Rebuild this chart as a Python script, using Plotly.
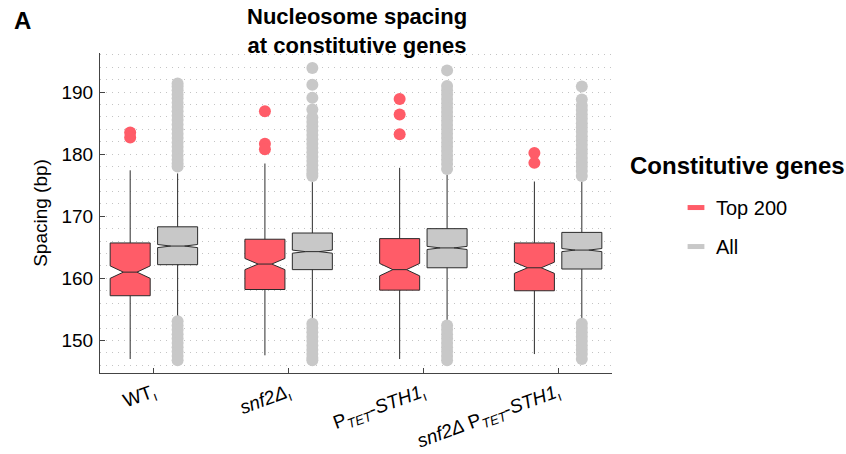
import plotly.graph_objects as go

# Strains on the x axis
strain_labels = [
    "WT<sub>ı</sub>",
    "<i>snf2Δ</i><sub>ı</sub>",
    "P<sub><i>TET</i></sub>-<i>STH1</i><sub>ı</sub>",
    "<i>snf2Δ</i> P<sub><i>TET</i></sub>-<i>STH1</i><sub>ı</sub>",
]
positions = [0, 1, 2, 3]

# Box statistics, top 200 constitutive genes (bp)
top_q1 = [157.2, 158.2, 158.1, 158.0]
top_median = [161.0, 162.3, 161.4, 161.7]
top_q3 = [165.7, 166.3, 166.4, 165.7]
top_lower = [147.0, 147.6, 147.0, 147.8]
top_upper = [177.4, 178.5, 177.8, 175.6]
top_notch = [1.0, 0.9, 1.0, 0.9]

# Box statistics, all constitutive genes (bp)
all_q1 = [162.2, 161.4, 161.7, 161.5]
all_median = [165.2, 164.3, 164.9, 164.55]
all_q3 = [168.3, 167.3, 168.0, 167.4]
all_lower = [153.7, 153.5, 153.2, 153.5]
all_upper = [176.9, 175.5, 176.7, 175.6]
all_notch = [0.25, 0.25, 0.25, 0.25]

# Outliers, top 200
top_outliers = [
    [183.5, 182.7],
    [186.9, 181.7, 180.8],
    [188.9, 186.4, 183.2],
    [180.2, 178.6],
]

# Outliers, all genes
all_outliers = [
    [191.4, 190.9, 190.3, 189.6, 189.0, 188.3, 187.6, 186.9, 186.2, 185.5,
     184.8, 184.0, 183.3, 182.6, 181.9, 181.2, 180.5, 179.8, 179.1, 178.5, 178.0,
     153.1, 152.4, 151.7, 151.0, 150.3, 149.6, 148.9, 148.2, 147.5, 146.8],
    [193.9, 191.2, 189.1, 187.2, 185.9, 185.2, 184.5, 183.8, 183.1, 182.4,
     181.7, 181.0, 180.3, 179.6, 178.9, 178.2, 177.5, 176.9, 176.5,
     152.7, 152.0, 151.3, 150.6, 149.9, 149.2, 148.5, 147.8, 147.2, 146.8],
    [193.5, 191.0, 190.3, 189.6, 188.9, 188.2, 187.5, 186.8, 186.1, 185.4,
     184.7, 184.0, 183.3, 182.6, 181.9, 181.2, 180.5, 179.8, 179.1, 178.4, 177.6,
     152.4, 151.7, 151.0, 150.3, 149.6, 148.9, 148.2, 147.5, 146.8],
    [190.9, 188.8, 187.8, 187.1, 186.4, 185.7, 185.0, 184.3, 183.6, 182.9,
     182.2, 181.5, 180.8, 180.1, 179.4, 178.7, 178.0, 177.3, 176.5,
     152.7, 152.0, 151.3, 150.6, 149.9, 149.2, 148.5, 147.8, 147.0],
]

RED = "#ff5c68"
GREY = "#c8c8c8"
EDGE = "#2b2b2b"
FONT = "Liberation Sans, Arial, sans-serif"
OFFSET = 0.176
BOX_W = 0.297

fig = go.Figure()


def add_group(q1, med, q3, lo, hi, notch, outliers, shift, color):
    xs = [p + shift for p in positions]
    fig.add_trace(go.Box(
        x=xs, q1=q1, median=med, q3=q3, lowerfence=lo, upperfence=hi,
        notchspan=notch, notched=True, notchwidth=0.33, width=BOX_W,
        fillcolor=color, line=dict(color=EDGE, width=1),
        boxpoints=False, whiskerwidth=0, showlegend=False, hoverinfo="skip",
    ))
    ox, oy = [], []
    for x, vals in zip(xs, outliers):
        ox += [x] * len(vals)
        oy += vals
    fig.add_trace(go.Scatter(
        x=ox, y=oy, mode="markers",
        marker=dict(color=color, size=12, line=dict(width=0)),
        showlegend=False, hoverinfo="skip",
    ))


add_group(top_q1, top_median, top_q3, top_lower, top_upper, top_notch,
          top_outliers, -OFFSET, RED)
add_group(all_q1, all_median, all_q3, all_lower, all_upper, all_notch,
          all_outliers, OFFSET, GREY)

# Legend entries
for name, color, grp in [("Top 200", RED, "a"), ("All", GREY, "b")]:
    fig.add_trace(go.Scatter(
        x=[None], y=[None], mode="markers", name=name, legendgroup=grp,
        marker=dict(symbol="line-ew", size=12, line=dict(color=color, width=5)),
    ))

fig.update_layout(
    width=846, height=454, autosize=False,
    margin=dict(l=100, r=234, t=53, b=81, autoexpand=False),
    paper_bgcolor="white", plot_bgcolor="white",
    font=dict(family=FONT, size=19, color="black"),
    boxmode="overlay",
    legend=dict(
        x=1.125, xanchor="left", y=0.578, yanchor="top",
        font=dict(size=20, family=FONT),
        tracegroupgap=10, itemwidth=30,
        bgcolor="rgba(0,0,0,0)",
    ),
    xaxis=dict(
        range=[-0.4, 3.4], tickvals=positions, ticktext=strain_labels,
        tickangle=-20, ticks="inside", ticklen=5, tickcolor="#444",
        showline=True, linecolor="#444", linewidth=1, showgrid=False,
        zeroline=False, tickfont=dict(size=19), automargin=False,
    ),
    yaxis=dict(
        range=[144.75, 196.3], tickvals=[150, 160, 170, 180, 190],
        ticks="inside", ticklen=5, tickcolor="#444",
        showline=True, linecolor="#444", linewidth=1,
        showgrid=True, gridcolor="#c4c4c4", griddash="1px,5px", gridwidth=1,
        minor=dict(dtick=2, tick0=146, showgrid=True, gridcolor="#c4c4c4",
                   griddash="1px,5px", gridwidth=1),
        zeroline=False, tickfont=dict(size=19), ticklabelstandoff=2,
        automargin=False,
        title=dict(text="Spacing (bp)", font=dict(size=19), standoff=8),
    ),
    annotations=[
        dict(text="<b>A</b>", xref="paper", yref="paper",
             x=-0.172, y=1.103, xanchor="left", yanchor="middle",
             showarrow=False, font=dict(size=24, family=FONT, color="black")),
        dict(text="<b>Nucleosome spacing<br>at constitutive genes</b>",
             xref="paper", yref="paper", x=0.502, y=1.07,
             xanchor="center", yanchor="middle", showarrow=False,
             font=dict(size=22, family=FONT, color="black")),
        dict(text="<b>Constitutive genes</b>", xref="paper", yref="paper",
             x=1.031, y=0.65, xanchor="left", yanchor="middle",
             showarrow=False, font=dict(size=24, family=FONT, color="black")),
    ],
)

fig.write_html("out.html")
